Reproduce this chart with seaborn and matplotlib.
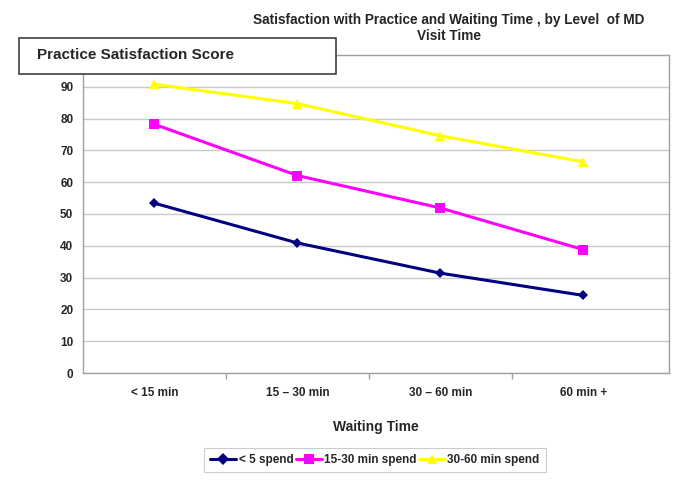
import pandas as pd
import matplotlib.pyplot as plt
import seaborn as sns
from matplotlib.patches import Rectangle

# data
waiting = ['< 15 min', '15 – 30 min', '30 – 60 min', '60 min +']
spend_lt5 = [53.4, 40.9, 31.4, 24.4]
spend_15_30 = [78.2, 62.1, 51.9, 38.8]
spend_30_60 = [90.8, 84.7, 74.6, 66.4]
series_names = ['< 5 spend', '15-30 min spend', '30-60 min spend']

sns.set_theme(style="white")
plt.rcParams['font.family'] = ['Liberation Sans', 'DejaVu Sans']

df = pd.DataFrame({
    'Waiting': waiting * 3,
    'Score': spend_lt5 + spend_15_30 + spend_30_60,
    'Group': [s for s in series_names for _ in waiting],
})

fig = plt.figure(figsize=(6.85, 4.93), dpi=100)
ax = fig.add_axes([83 / 685, 1 - 373 / 493, 586 / 685, 318 / 493])

sns.lineplot(
    data=df, x='Waiting', y='Score', hue='Group', style='Group',
    markers=['D', 's', '^'], dashes=False, sort=False,
    palette=['#000080', '#FF00FF', '#FFFF00'],
    linewidth=2.2, markersize=6.5, markeredgewidth=0, ax=ax
)
# slightly smaller diamonds, as in the original
ax.lines[0].set_markersize(5.5)

ax.set_ylim(0, 100)
ax.set_xlim(-0.5, 3.6)
ax.set_yticks(range(0, 100, 10))
ax.yaxis.grid(True, color='#c8c8c8', linewidth=1)
ax.set_xticks(range(len(waiting)))
ax.set_xticklabels(waiting, fontsize=8.5, fontweight='bold')
ax.set_xticks([0.5, 1.5, 2.5], minor=True)
ax.tick_params(axis='x', which='major', length=0, pad=10)
ax.tick_params(axis='x', which='minor', length=4, color='#a0a0a0', direction='out', bottom=True)
ax.tick_params(axis='y', length=3, color='#a0a0a0', labelsize=8.5, pad=4)
for t in ax.get_yticklabels():
    t.set_fontweight('bold')
for s in ax.spines.values():
    s.set_color('#a0a0a0')
    s.set_linewidth(1)

ax.set_xlabel('Waiting Time', fontsize=10, fontweight='bold', labelpad=15)
ax.set_ylabel('')

fig.text(449 / 685, 1 - 28 / 493,
         'Satisfaction with Practice and Waiting Time , by Level  of MD\nVisit Time',
         ha='center', va='center', fontsize=9.8, fontweight='bold', linespacing=1.15)

# y-axis title box
fig.patches.append(Rectangle((19 / 685, 1 - 74 / 493), 317 / 685, 36 / 493,
                             transform=fig.transFigure, facecolor='white',
                             edgecolor='#404040', linewidth=1.2, zorder=5))
fig.text(37 / 685, 1 - 55 / 493, 'Practice Satisfaction Score',
         ha='left', va='center', fontsize=11, fontweight='bold', zorder=6)

handles, labels = ax.get_legend_handles_labels()
ax.legend_.remove()
leg = fig.legend(handles, labels, loc='center', bbox_to_anchor=(375 / 685, 1 - 460 / 493),
                 ncol=3, frameon=True, fancybox=False, fontsize=8.5,
                 handlelength=2.2, handletextpad=0.2, columnspacing=0.2,
                 borderpad=0.5)
leg.get_frame().set_edgecolor('#c0c0c0')
leg.get_frame().set_linewidth(0.8)
for t in leg.get_texts():
    t.set_fontweight('bold')

fig.savefig('out.png', dpi=100)
